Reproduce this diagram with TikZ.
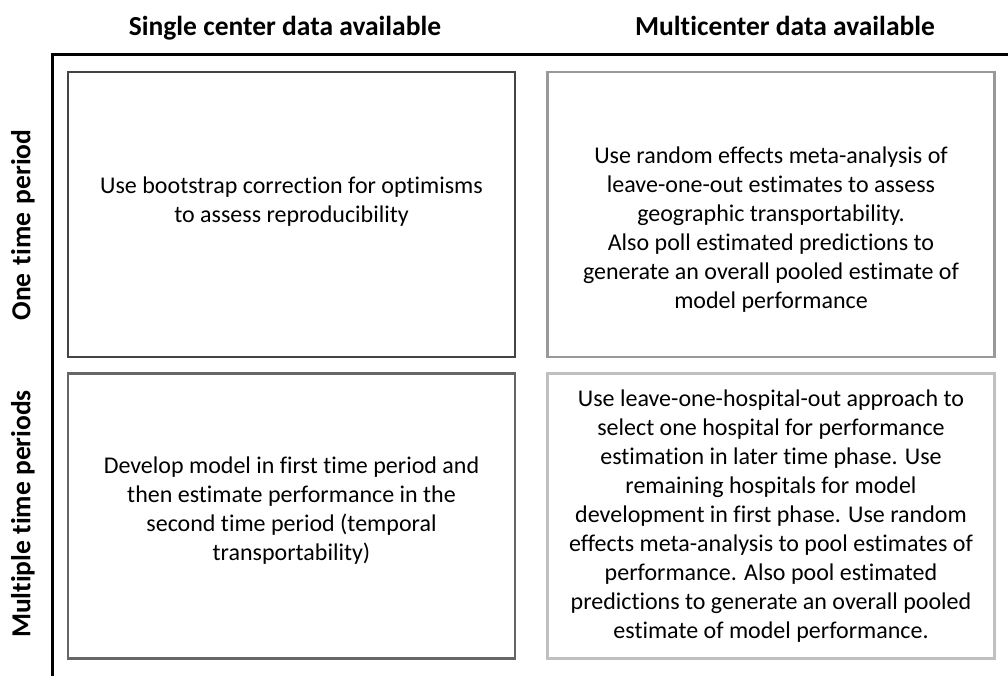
\documentclass[tikz,border=0pt]{standalone}
\usepackage{fontspec}
\setmainfont{Carlito}[Ligatures=NoCommon]
\usepackage{tikz}

\definecolor{boxA}{HTML}{444444}
\definecolor{boxB}{HTML}{999999}
\definecolor{boxC}{HTML}{666666}
\definecolor{boxD}{HTML}{C0C0C0}

\begin{document}
\begin{tikzpicture}[
				x=1pt,
				y=-1pt,
				line cap=rect,
				line join=miter,
				every node/.style={font=\fontsize{24}{29}\selectfont, align=center},
				cell/.style={draw, line width=2.6pt, minimum width=447pt, minimum height=285pt, inner sep=0pt},
				head/.style={font=\fontsize{27.5}{30}\selectfont\bfseries}
				]
				\useasboundingbox (0,0) rectangle (1008,675);
				
				% Axes
				\coordinate (corner) at (52,54);
				\draw[line width=3pt] (52,675) -- (corner) -- (1008,54);
				
				% Column and row labels
				\node[head, anchor=base] (colone) at (285,35) {Single center data available};
				\node[head, anchor=base] (coltwo) at (785,35) {Multicenter data available};
				\node[head, rotate=90] (rowone) at (23,225) {One\hspace{0.3em}time\hspace{0.3em}period};
				\node[head, rotate=90] (rowtwo) at (23,514) {Multiple time periods};
				
				% Cells
				\node[cell, draw=boxA] (single1) at (291.5,214.5) {};
				\node[cell, draw=boxB] (multi1) at (771,214.5) {};
				\node[cell, draw=boxC] (single2) at (291.5,516) {};
				\node[cell, draw=boxD] (multi2) at (771,516) {};
				
				% Cell texts
				\node at (291.5,202) {Use bootstrap correction for optimisms\\ to assess reproducibility};
				\node at (771,230) {Use random effects meta-analysis of\\ leave-one-out estimates to assess\\ geographic transportability.\\ Also poll estimated predictions to\\ generate an overall pooled estimate of\\ model performance};
				\node at (291.5,511) {Develop model in first time period and\\ then estimate performance in the\\ second time period (temporal\\ transportability)};
				\node at (771,516) {Use leave-one-hospital-out approach to\\ select one hospital for performance\\ estimation in later time phase. Use\\ remaining hospitals for model\\ development in first phase. Use random\\ effects meta-analysis to pool estimates of\\ performance. Also pool estimated\\ predictions to generate an overall pooled\\ estimate of model performance.};
			\end{tikzpicture}
\end{document}
